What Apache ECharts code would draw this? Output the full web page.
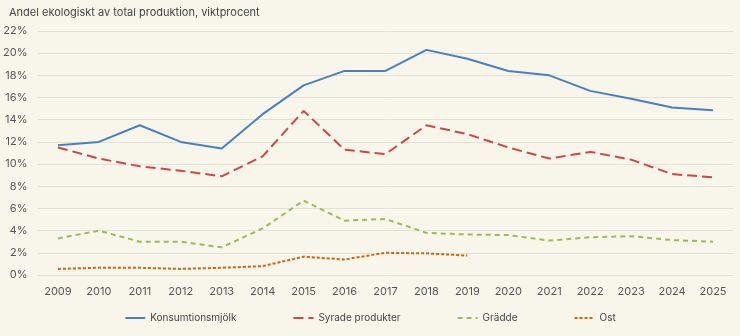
<!DOCTYPE html>
<html><head><meta charset="utf-8">
<script src="https://cdn.jsdelivr.net/npm/echarts@6/dist/echarts.min.js"></script>
<style>html,body{margin:0;padding:0;background:#f8f6ea;}#c{width:740px;height:336px;}</style>
</head><body><div id="c"></div>
<script>
const years = ['2009','2010','2011','2012','2013','2014','2015','2016','2017','2018','2019','2020','2021','2022','2023','2024','2025'];
const konsumtionsmjolk = [11.7,12.0,13.5,12.0,11.4,14.5,17.1,18.4,18.4,20.3,19.5,18.4,18.0,16.6,15.9,15.1,14.85];
const syrade = [11.5,10.5,9.8,9.4,8.9,10.7,14.8,11.3,10.9,13.5,12.7,11.5,10.5,11.1,10.4,9.1,8.8];
const gradde = [3.3,4.0,3.0,3.0,2.5,4.2,6.7,4.9,5.05,3.8,3.65,3.6,3.1,3.4,3.5,3.15,3.0];
const ost = [0.55,0.65,0.65,0.55,0.65,0.8,1.65,1.4,2.0,1.95,1.75];
const seriesNames = ['Konsumtionsmjölk','Syrade produkter','Grädde','Ost'];
const title = 'Andel ekologiskt av total produktion, viktprocent';

const font = 'Inter, "Liberation Sans", sans-serif';
const chart = echarts.init(document.getElementById('c'), null, {renderer:'canvas'});
function mk(name, data, color, dash){
  return {name, type:'line', data, symbol:'none', smooth:false,
    lineStyle:{color, width:2, type:dash}, itemStyle:{color}};
}
chart.setOption({
  backgroundColor:'#f8f6ea',
  animation:false,
  title:{text:title, left:4, top:2, textStyle:{fontFamily:font, fontSize:11, fontWeight:'normal', color:'#444'}},
  grid:{left:35.5, right:6.5, top:31, bottom:61},
  xAxis:{type:'category', data:years, boundaryGap:true,
    axisLine:{show:false}, axisTick:{show:false},
    axisLabel:{fontFamily:font, fontSize:11, color:'#555', margin:11}},
  yAxis:{type:'value', min:0, max:22, interval:2,
    axisLabel:{fontFamily:font, fontSize:11, color:'#555', formatter:'{value}%', margin:10},
    splitLine:{lineStyle:{color:'#e4e2d8', width:1}}},
  legend:{data:seriesNames, bottom:8, left:'center', itemGap:56, itemWidth:20, itemHeight:8,
    itemStyle:{opacity:0},
    textStyle:{fontFamily:font, fontSize:10, color:'#444'}},
  series:[
    mk(seriesNames[0], konsumtionsmjolk, '#4a7fc1', 'solid'),
    mk(seriesNames[1], syrade, '#c9484a', [10,5]),
    mk(seriesNames[2], gradde, '#9bbb59', [5,4]),
    mk(seriesNames[3], ost, '#d4600e', [3,2])
  ]
});
</script></body></html>
